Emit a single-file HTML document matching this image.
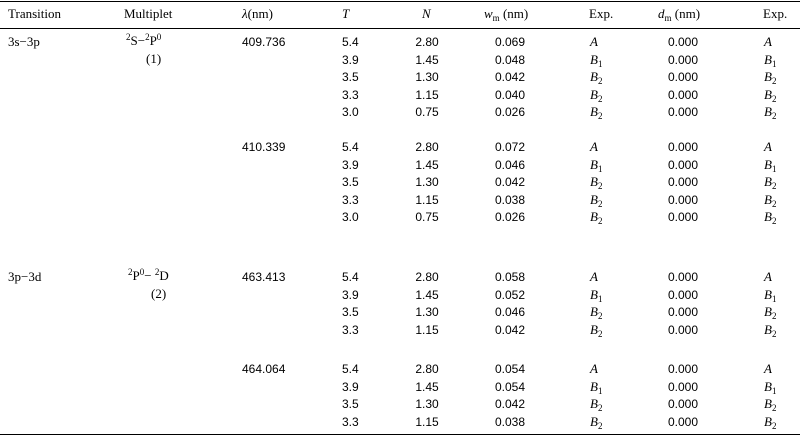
<!DOCTYPE html>
<html><head><meta charset="utf-8">
<style>
html,body{margin:0;padding:0;background:#fff;}
#t{position:relative;width:800px;height:436px;font-family:"Liberation Sans",sans-serif;font-size:12px;color:#000;overflow:hidden;}
.c{position:absolute;white-space:nowrap;line-height:14px;}
.s{font-family:"Liberation Serif",serif;font-size:13px;}
.i{font-family:"Liberation Serif",serif;font-style:italic;font-size:13px;}
.hr{position:absolute;left:0;width:800px;height:1px;background:#000;}
sub{font-size:9px;vertical-align:-3px;line-height:0;}
sup{font-size:9px;vertical-align:5px;line-height:0;}
</style></head><body>
<div id="t">
<div class="hr" style="top:1px"></div>
<div class="hr" style="top:28px"></div>
<div class="hr" style="top:434px"></div>
<div class="c s" style="left:8px;top:7px">Transition</div>
<div class="c s" style="left:124px;top:7px">Multiplet</div>
<div class="c s" style="left:242px;top:7px"><i>λ</i>(nm)</div>
<div class="c i" style="left:342px;top:7px">T</div>
<div class="c i" style="left:422px;top:7px">N</div>
<div class="c s" style="left:484px;top:7px"><i>w</i><sub>m</sub> (nm)</div>
<div class="c s" style="left:589px;top:7px">Exp.</div>
<div class="c s" style="left:658px;top:7px"><i>d</i><sub>m</sub> (nm)</div>
<div class="c s" style="left:763px;top:7px">Exp.</div>

<div class="c s" style="left:8px;top:35px">3s−3p</div>
<div class="c s" style="left:126px;top:34px"><sup>2</sup>S−<sup>2</sup>P<sup>0</sup></div>
<div class="c s" style="left:146px;top:52px">(1)</div>
<div class="c s" style="left:8px;top:270px">3p−3d</div>
<div class="c s" style="left:128px;top:269px"><sup>2</sup>P<sup>0</sup>− <sup>2</sup>D</div>
<div class="c s" style="left:151px;top:287px">(2)</div>
</div>
<script>
const lambdas=["409.736","410.339","463.413","464.064"];
const groupTops=[42,147,277,369];
const Tvals=[["5.4","3.9","3.5","3.3","3.0"],["5.4","3.9","3.5","3.3","3.0"],["5.4","3.9","3.5","3.3"],["5.4","3.9","3.5","3.3"]];
const Nvals=[["2.80","1.45","1.30","1.15","0.75"],["2.80","1.45","1.30","1.15","0.75"],["2.80","1.45","1.30","1.15"],["2.80","1.45","1.30","1.15"]];
const Wvals=[["0.069","0.048","0.042","0.040","0.026"],["0.072","0.046","0.042","0.038","0.026"],["0.058","0.052","0.046","0.042"],["0.054","0.054","0.042","0.038"]];
const Exp1=[["A","B1","B2","B2","B2"],["A","B1","B2","B2","B2"],["A","B1","B2","B2"],["A","B1","B2","B2"]];
const Dvals=[["0.000","0.000","0.000","0.000","0.000"],["0.000","0.000","0.000","0.000","0.000"],["0.000","0.000","0.000","0.000"],["0.000","0.000","0.000","0.000"]];
const Exp2=[["A","B1","B2","B2","B2"],["A","B1","B2","B2","B2"],["A","B1","B2","B2"],["A","B1","B2","B2"]];
const t=document.getElementById('t');
function cell(html,left,cy,cls,name,center){
  const d=document.createElement('div');
  d.className='c'+(cls?' '+cls:'');
  d.innerHTML=html;
  d.style.top=(cy-7)+'px';
  if(center){d.style.left=left+'px';d.style.transform='translateX(-50%)';}
  else d.style.left=left+'px';
  
  
  t.appendChild(d);
}
function expHtml(e){return e.length>1?e[0]+'<sub style="font-style:normal">'+e[1]+'</sub>':e;}
lambdas.forEach((l,g)=>{
  const y0=groupTops[g];
  cell(l,242,y0,'', 'wavelength-'+l,false);
  Tvals[g].forEach((tv,r)=>{
    const y=y0+r*17.5;
    cell(tv,342,y,'','t-value',false);
    cell(Nvals[g][r],427,y,'','n-value',true);
    cell(Wvals[g][r],510,y,'','wm-value',true);
    cell(expHtml(Exp1[g][r]),590,y,'i','exp1-value',false);
    cell(Dvals[g][r],683,y,'','dm-value',true);
    cell(expHtml(Exp2[g][r]),764,y,'i','exp2-value',false);
  });
});
</script>
</body></html>
